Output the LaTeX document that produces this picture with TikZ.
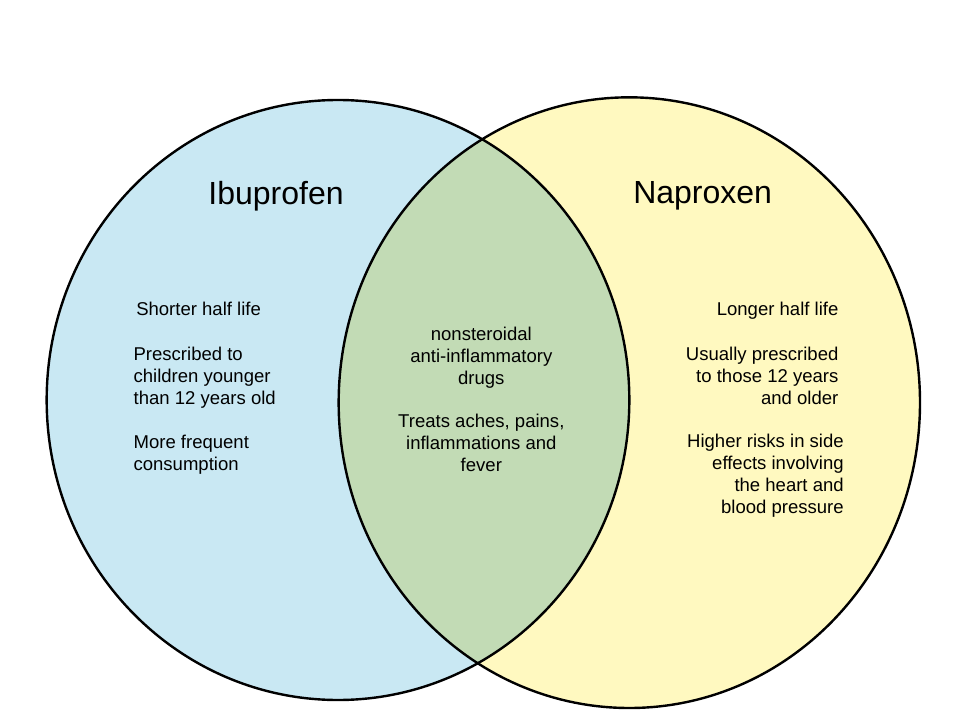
\documentclass[tikz,border=0pt]{standalone}
\usepackage{fontspec}
\setmainfont{Liberation Sans}
\begin{document}
\begin{tikzpicture}[x=1pt,y=-1pt,
  txt/.style={font=\fontsize{13.9}{16.5}\selectfont,inner sep=0pt},
  ttl/.style={font=\fontsize{24}{28}\selectfont,inner sep=0pt}]
\definecolor{cb}{HTML}{C9E8F3}\definecolor{cy}{HTML}{FFF9C0}\definecolor{cg}{HTML}{C2DBB5}
\useasboundingbox (0,0) rectangle (720,540);
\fill[cb] (253.5,300) ellipse [x radius=218.5,y radius=225];
\fill[cy] (472,302) ellipse [x radius=218,y radius=229];
\begin{scope}
\clip (253.5,300) ellipse [x radius=218.5,y radius=225];
\fill[cg] (472,302) ellipse [x radius=218,y radius=229];
\end{scope}
\draw[line width=1.8pt] (253.5,300) ellipse [x radius=218.5,y radius=225];
\draw[line width=1.8pt] (472,302) ellipse [x radius=218,y radius=229];
\node[ttl] (t1) at (207,147) {Ibuprofen};
\node[ttl] (t2) at (527,147) {Naproxen};
\node[txt,align=left,anchor=north west] (l1) at (102,226) {Shorter half life};
\node[txt,align=left,anchor=north west] (l2) at (100,260) {Prescribed to\\children younger\\than 12 years old};
\node[txt,align=left,anchor=north west] (l3) at (100,326) {More frequent\\consumption};
\node[txt,align=center,anchor=north] (m1) at (361,245) {nonsteroidal\\anti-inflammatory\\drugs};
\node[txt,align=center,anchor=north] (m2) at (361,310) {Treats aches, pains,\\inflammations and\\fever};
\node[txt,align=right,anchor=north east] (r1) at (629,226) {Longer half life};
\node[txt,align=right,anchor=north east] (r2) at (629,260) {Usually prescribed\\to those 12 years\\and older};
\node[txt,align=right,anchor=north east] (r3) at (633,325) {Higher risks in side\\effects involving\\the heart and\\blood pressure};
\end{tikzpicture}
\end{document}
